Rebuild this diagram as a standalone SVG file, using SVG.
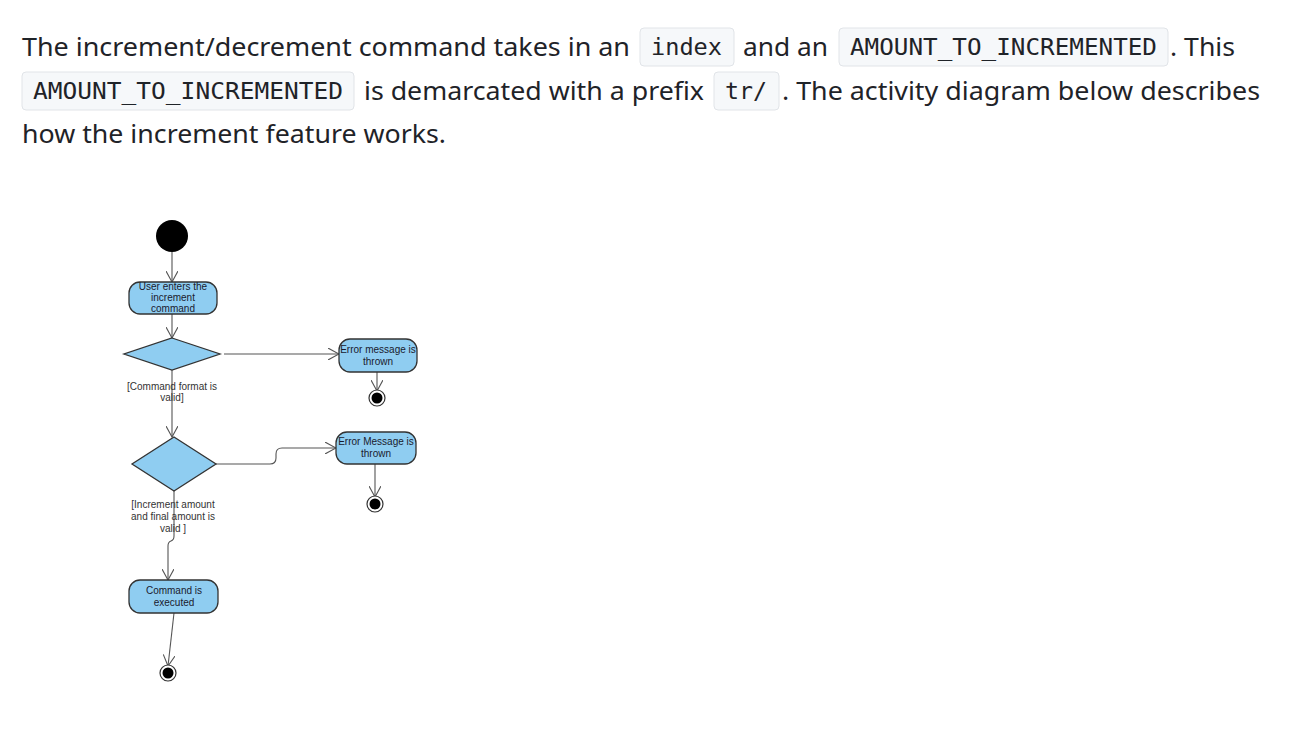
<svg xmlns="http://www.w3.org/2000/svg" width="1314" height="740" viewBox="0 0 1314 740">
<style>
.p{font-family:"Noto Sans","Open Sans",sans-serif;font-size:26px;fill:#1f2328}
.c{font-family:"DejaVu Sans Mono","Liberation Mono",monospace;font-size:23px;fill:#1f2328}
.cb{fill:#f6f8fa;stroke:#e1e4e8;stroke-width:1}
.n{fill:#8fcdf1;stroke:#333;stroke-width:1.3}
.t{font-family:"Liberation Sans",Arial,sans-serif;font-size:10px;fill:#1a1a2e;text-anchor:middle}
.l{font-family:"Liberation Sans",Arial,sans-serif;font-size:10px;fill:#333;text-anchor:middle}
.e{fill:none;stroke:#555;stroke-width:1.1}
</style>
<defs>
<marker id="a" viewBox="0 0 12 12" refX="11" refY="6" markerWidth="12" markerHeight="12" markerUnits="userSpaceOnUse" orient="auto">
<path d="M0,0 L11,6 L0,12" fill="none" stroke="#555" stroke-width="1.1"/>
</marker>
</defs>
<rect width="1314" height="740" fill="#fff"/>
<g id="prose">
<rect class="cb" x="640" y="28" width="94" height="38" rx="4"/>
<rect class="cb" x="839" y="28" width="329" height="38" rx="4"/>
<rect class="cb" x="22" y="72" width="332" height="38" rx="4"/>
<rect class="cb" x="714" y="72" width="65" height="38" rx="4"/>
<text class="p" x="22" y="56" textLength="608" lengthAdjust="spacingAndGlyphs">The increment/decrement command takes in an</text>
<text class="c" x="651" y="55" textLength="71" lengthAdjust="spacingAndGlyphs">index</text>
<text class="p" x="743" y="56" textLength="85" lengthAdjust="spacingAndGlyphs">and an</text>
<text class="c" x="850" y="55" textLength="307" lengthAdjust="spacingAndGlyphs">AMOUNT_TO_INCREMENTED</text>
<text class="p" x="1170" y="56" textLength="65" lengthAdjust="spacingAndGlyphs">. This</text>
<text class="c" x="33" y="99" textLength="310" lengthAdjust="spacingAndGlyphs">AMOUNT_TO_INCREMENTED</text>
<text class="p" x="364" y="100" textLength="340" lengthAdjust="spacingAndGlyphs">is demarcated with a prefix</text>
<text class="c" x="725" y="99" textLength="42" lengthAdjust="spacingAndGlyphs">tr/</text>
<text class="p" x="782" y="100" textLength="478" lengthAdjust="spacingAndGlyphs">. The activity diagram below describes</text>
<text class="p" x="22" y="143" textLength="424" lengthAdjust="spacingAndGlyphs">how the increment feature works.</text>
</g>
<g id="edges">
<path class="e" d="M172,252 L172,282" marker-end="url(#a)"/>
<path class="e" d="M172,314 L172,338" marker-end="url(#a)"/>
<path class="e" d="M224,354 L339,354" marker-end="url(#a)"/>
<path class="e" d="M377,372 L377,391" marker-end="url(#a)"/>
<path class="e" d="M172,370 L172,437" marker-end="url(#a)"/>
<path class="e" d="M216,464 L270,464 Q276,464 276,458 L276,454 Q276,448 282,448 L336,448" marker-end="url(#a)"/>
<path class="e" d="M375,464 L375,497" marker-end="url(#a)"/>
<path class="e" d="M174,491 L174,536 Q174,540 171,541 Q168,542 168,546 L168,580" marker-end="url(#a)"/>
<path class="e" d="M174,613 L168,666" marker-end="url(#a)"/>
</g>
<g id="start"><circle cx="172" cy="236" r="16" fill="#000"/></g>
<g id="enter">
<rect class="n" x="129" y="282" width="88" height="32" rx="11"/>
<text class="t" x="173" y="290">User enters the</text>
<text class="t" x="173" y="301">increment</text>
<text class="t" x="173" y="312">command</text>
</g>
<g id="d1"><polygon class="n" points="172,338 220,354 172,370 124,354"/></g>
<g id="err1">
<rect class="n" x="339" y="339" width="78" height="33" rx="11"/>
<text class="t" x="378" y="353">Error message is</text>
<text class="t" x="378" y="365">thrown</text>
</g>
<g id="end1"><circle cx="377" cy="398" r="8" fill="#fff" stroke="#333" stroke-width="1.2"/><circle cx="377" cy="398" r="5.5" fill="#000"/></g>
<g id="lbl1">
<text class="l" x="172" y="390">[Command format is</text>
<text class="l" x="172" y="401">valid]</text>
</g>
<g id="d2"><polygon class="n" points="174,437 216,464 174,491 132,464"/></g>
<g id="err2">
<rect class="n" x="336" y="432" width="80" height="32" rx="11"/>
<text class="t" x="376" y="445">Error Message is</text>
<text class="t" x="376" y="457">thrown</text>
</g>
<g id="end2"><circle cx="375" cy="504" r="8" fill="#fff" stroke="#333" stroke-width="1.2"/><circle cx="375" cy="504" r="5.5" fill="#000"/></g>
<g id="lbl2">
<text class="l" x="173" y="508">[Increment amount</text>
<text class="l" x="173" y="520">and final amount is</text>
<text class="l" x="173" y="532">valid ]</text>
</g>
<g id="exec">
<rect class="n" x="129" y="580" width="89" height="33" rx="11"/>
<text class="t" x="174" y="594">Command is</text>
<text class="t" x="174" y="606">executed</text>
</g>
<g id="end3"><circle cx="168" cy="673" r="8" fill="#fff" stroke="#333" stroke-width="1.2"/><circle cx="168" cy="673" r="5.5" fill="#000"/></g>
</svg>
